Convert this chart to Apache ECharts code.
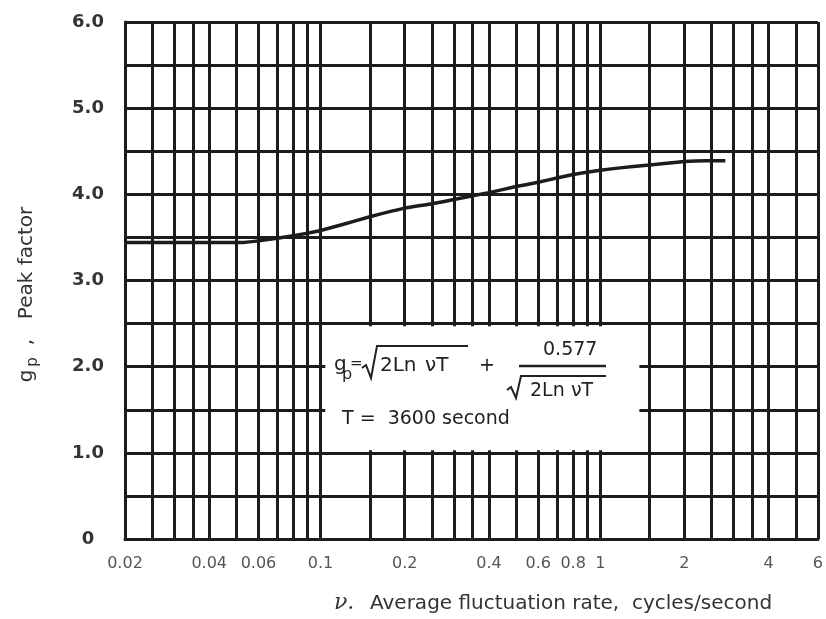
<!DOCTYPE html>
<html>
<head>
<meta charset="utf-8">
<script src="https://cdn.jsdelivr.net/npm/echarts@6/dist/echarts.min.js"></script>
<style>
html,body{margin:0;padding:0;background:#fff;}
#chart{width:826px;height:619px;}
</style>
</head>
<body>
<div id="chart"></div>
<script>
// ---- data ----
const nu = [0.02, 0.03, 0.04, 0.052, 0.06, 0.07, 0.08, 0.09, 0.1, 0.12, 0.15, 0.2, 0.25, 0.3, 0.4, 0.5, 0.6, 0.7, 0.8, 1.0, 1.2, 1.5, 2.0, 2.4, 2.8];
const gp = [3.44, 3.44, 3.44, 3.44, 3.46, 3.49, 3.52, 3.55, 3.58, 3.65, 3.74, 3.84, 3.89, 3.94, 4.02, 4.09, 4.14, 4.19, 4.23, 4.28, 4.31, 4.34, 4.38, 4.39, 4.39];
const xGridValues = [0.02, 0.025, 0.03, 0.035, 0.04, 0.05, 0.06, 0.07, 0.08, 0.09, 0.1, 0.15, 0.2, 0.25, 0.3, 0.35, 0.4, 0.5, 0.6, 0.7, 0.8, 0.9, 1, 1.5, 2, 2.5, 3, 3.5, 4, 5, 6];
const xTickLabels = [0.02, 0.04, 0.06, 0.1, 0.2, 0.4, 0.6, 0.8, 1, 2, 4, 6];
const yMin = 0, yMax = 6, yStep = 0.5;
const formulaBox = [[0.104, 1.03], [1.38, 2.47]];

const ink = '#1c1c1c';
const chart = echarts.init(document.getElementById('chart'));
const F = 'DejaVu Sans';

function txt(x, y, s, size, opts) {
  return Object.assign({
    type: 'text', x: x, y: y, z: 100, silent: true,
    style: Object.assign({ text: s, fontFamily: F, fontSize: size, fill: '#222', textAlign: 'left', textVerticalAlign: 'top' }, (opts && opts.style) || {})
  }, (opts && opts.el) || {});
}

const option = {
  backgroundColor: '#fff',
  animation: false,
  grid: { left: 125, right: 4, top: 22, bottom: 80, containLabel: false },
  xAxis: {
    type: 'log', logBase: 10, min: 0.02, max: 6,
    axisLine: { show: true, lineStyle: { color: ink, width: 3 } },
    axisTick: { show: false, customValues: xGridValues },
    splitLine: { show: true, lineStyle: { color: ink, width: 3 } },
    axisLabel: {
      customValues: xTickLabels, margin: 17,
      fontFamily: F, fontSize: 16, color: '#555',
      formatter: v => String(+v.toPrecision(3))
    }
  },
  yAxis: {
    type: 'value', min: yMin, max: yMax, interval: yStep,
    axisLine: { show: true, lineStyle: { color: ink, width: 3 } },
    axisTick: { show: false },
    splitLine: { show: true, lineStyle: { color: ink, width: 3 } },
    axisLabel: {
      margin: 37, align: 'center', fontFamily: F, fontSize: 18, fontWeight: 'bold', color: '#333',
      formatter: v => v === 0 ? '0' : (Math.abs(v % 1) < 1e-9 ? v.toFixed(1) : '')
    }
  },
  series: [{
    type: 'line',
    data: nu.map((v, i) => [v, gp[i]]),
    symbol: 'none',
    smooth: 0.1,
    lineStyle: { color: ink, width: 3.5 },
    z: 5,
    markArea: {
      silent: true,
      itemStyle: { color: '#ffffff', opacity: 1, borderWidth: 0 },
      data: [[{ coord: formulaBox[0] }, { coord: formulaBox[1] }]]
    }
  }],
  graphic: [
    // y-axis title (rotated)
    txt(27, 376, 'g', 20, { style: { textAlign: 'center', textVerticalAlign: 'middle', fill: '#333' }, el: { rotation: Math.PI / 2 } }),
    txt(33, 362, 'p', 15, { style: { textAlign: 'center', textVerticalAlign: 'middle', fill: '#333' }, el: { rotation: Math.PI / 2 } }),
    txt(27, 342, ',', 20, { style: { textAlign: 'center', textVerticalAlign: 'middle', fill: '#333' }, el: { rotation: Math.PI / 2 } }),
    txt(27, 263, 'Peak factor', 20, { style: { textAlign: 'center', textVerticalAlign: 'middle', fill: '#333' }, el: { rotation: Math.PI / 2 } }),
    // x-axis title
    txt(334, 603, 'ν.', 22, { style: { fontFamily: 'DejaVu Serif', fontStyle: 'italic', textVerticalAlign: 'middle', fill: '#333' } }),
    txt(370, 604, 'Average fluctuation rate,  cycles/second', 20, { style: { textVerticalAlign: 'middle', fill: '#333' } }),
    // formula
    txt(334, 355, 'g', 20),
    txt(342, 367, 'p', 16),
    txt(350, 357, '=', 15),
    { type: 'polyline', z: 100, silent: true, shape: { points: [[362, 368], [366, 365], [371, 378], [377, 346], [468, 346]] }, style: { stroke: '#222', lineWidth: 2, fill: null } },
    txt(380, 356, '2Ln', 20),
    txt(425, 356, 'νT', 20),
    txt(479, 357, '+', 19),
    txt(543, 341, '0.577', 19),
    { type: 'line', z: 100, silent: true, shape: { x1: 519, y1: 366, x2: 606, y2: 366 }, style: { stroke: '#222', lineWidth: 2.5 } },
    { type: 'polyline', z: 100, silent: true, shape: { points: [[507, 390], [511, 387], [516, 398], [521, 376], [606, 376]] }, style: { stroke: '#222', lineWidth: 2, fill: null } },
    txt(530, 382, '2Ln', 19),
    txt(571, 382, 'νT', 19),
    txt(342, 410, 'T =  3600 second', 19)
  ]
};
chart.setOption(option);
</script>
</body>
</html>
